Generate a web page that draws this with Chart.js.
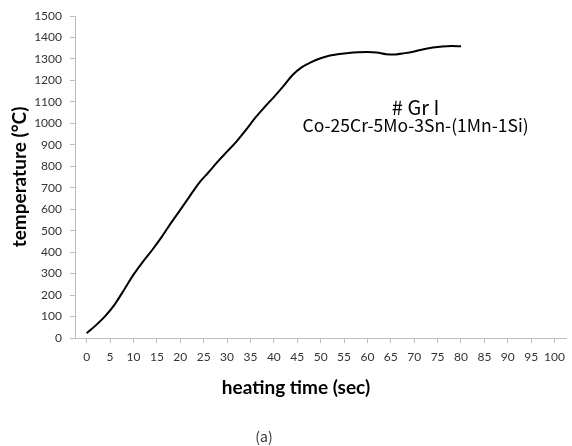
<!DOCTYPE html>
<html>
<head>
<meta charset="utf-8">
<script src="https://cdn.jsdelivr.net/npm/chart.js@4.4.1/dist/chart.umd.min.js"></script>
<style>
html,body{margin:0;padding:0;background:#fff}
</style>
</head>
<body>
<canvas id="chart" width="572" height="446"></canvas>
<script>
// heating curve
const times=[0,2,4,6,8,10,12,14,16,18,20,22,24,26,28,30,32,34,36,38,40,42,44,46,48,50,52,54,56,58,60,62,64,66,68,70,72,74,76,78,80];
const temps=[22,60,103,157,225,295,355,410,470,535,597,660,722,771,822,868,915,968,1025,1075,1122,1172,1225,1262,1285,1303,1316,1323,1328,1331,1332,1330,1322,1321,1327,1335,1345,1353,1358,1360,1359];
const xTicks=[0,5,10,15,20,25,30,35,40,45,50,55,60,65,70,75,80,85,90,95,100];
const yTicks=[0,100,200,300,400,500,600,700,800,900,1000,1100,1200,1300,1400,1500];
const xTitle='heating time (sec)';
const yTitle='temperature (°C)';
const noteLines=['# Gr I','Co-25Cr-5Mo-3Sn-(1Mn-1Si)'];
const caption='(a)';

const points=times.map((t,i)=>({x:t,y:temps[i]}));

const notes={
  id:'notes',
  afterDraw(chart){
    const c=chart.ctx, sx=chart.scales.x, sy=chart.scales.y;
    c.save();
    c.textAlign='center';
    c.textBaseline='middle';
    c.fillStyle='#000';
    c.font='20px "Noto Sans CJK TC"';
    c.fillText(noteLines[0],sx.getPixelForValue(70.3),sy.getPixelForValue(1072));
    c.font='17.5px "Noto Sans CJK TC"';
    c.fillText(noteLines[1],sx.getPixelForValue(70.3),sy.getPixelForValue(990));
    c.font='bold 19px Lato';
    c.fillText(xTitle,296,388);
    c.fillStyle='#333';
    c.font='14px "Noto Sans CJK TC"';
    c.fillText(caption,264,437);
    c.restore();
  }
};

new Chart(document.getElementById('chart'),{
  type:'line',
  data:{
    datasets:[{
      data:points,
      borderColor:'#000',
      borderWidth:2,
      pointRadius:0,
      cubicInterpolationMode:'monotone',
      fill:false
    }]
  },
  options:{
    responsive:false,
    animation:false,
    layout:{padding:{top:16,right:0,left:0,bottom:0}},
    plugins:{legend:{display:false},tooltip:{enabled:false}},
    scales:{
      x:{
        type:'linear',
        min:-2.5,max:102.5,
        afterFit(s){s.height=108;},
        afterBuildTicks(s){s.ticks=xTicks.map(v=>({value:v}));},
        grid:{drawOnChartArea:false,color:'#bdbdbd',tickLength:5},
        border:{color:'#bdbdbd'},
        ticks:{color:'#333',font:{family:'Lato',size:12},padding:7,maxRotation:0,autoSkip:false,callback:v=>String(v)}
      },
      y:{
        min:0,max:1500,
        afterFit(s){s.width=75;},
        afterBuildTicks(s){s.ticks=yTicks.map(v=>({value:v}));},
        grid:{drawOnChartArea:false,color:'#bdbdbd',tickLength:5},
        border:{color:'#bdbdbd'},
        ticks:{color:'#333',font:{family:'Lato',size:12},padding:8,callback:v=>String(v)},
        title:{display:true,text:yTitle,color:'#000',font:{family:'Lato',size:19,weight:'bold'},padding:{top:8,bottom:0}}
      }
    }
  },
  plugins:[notes]
});
</script>
</body>
</html>
